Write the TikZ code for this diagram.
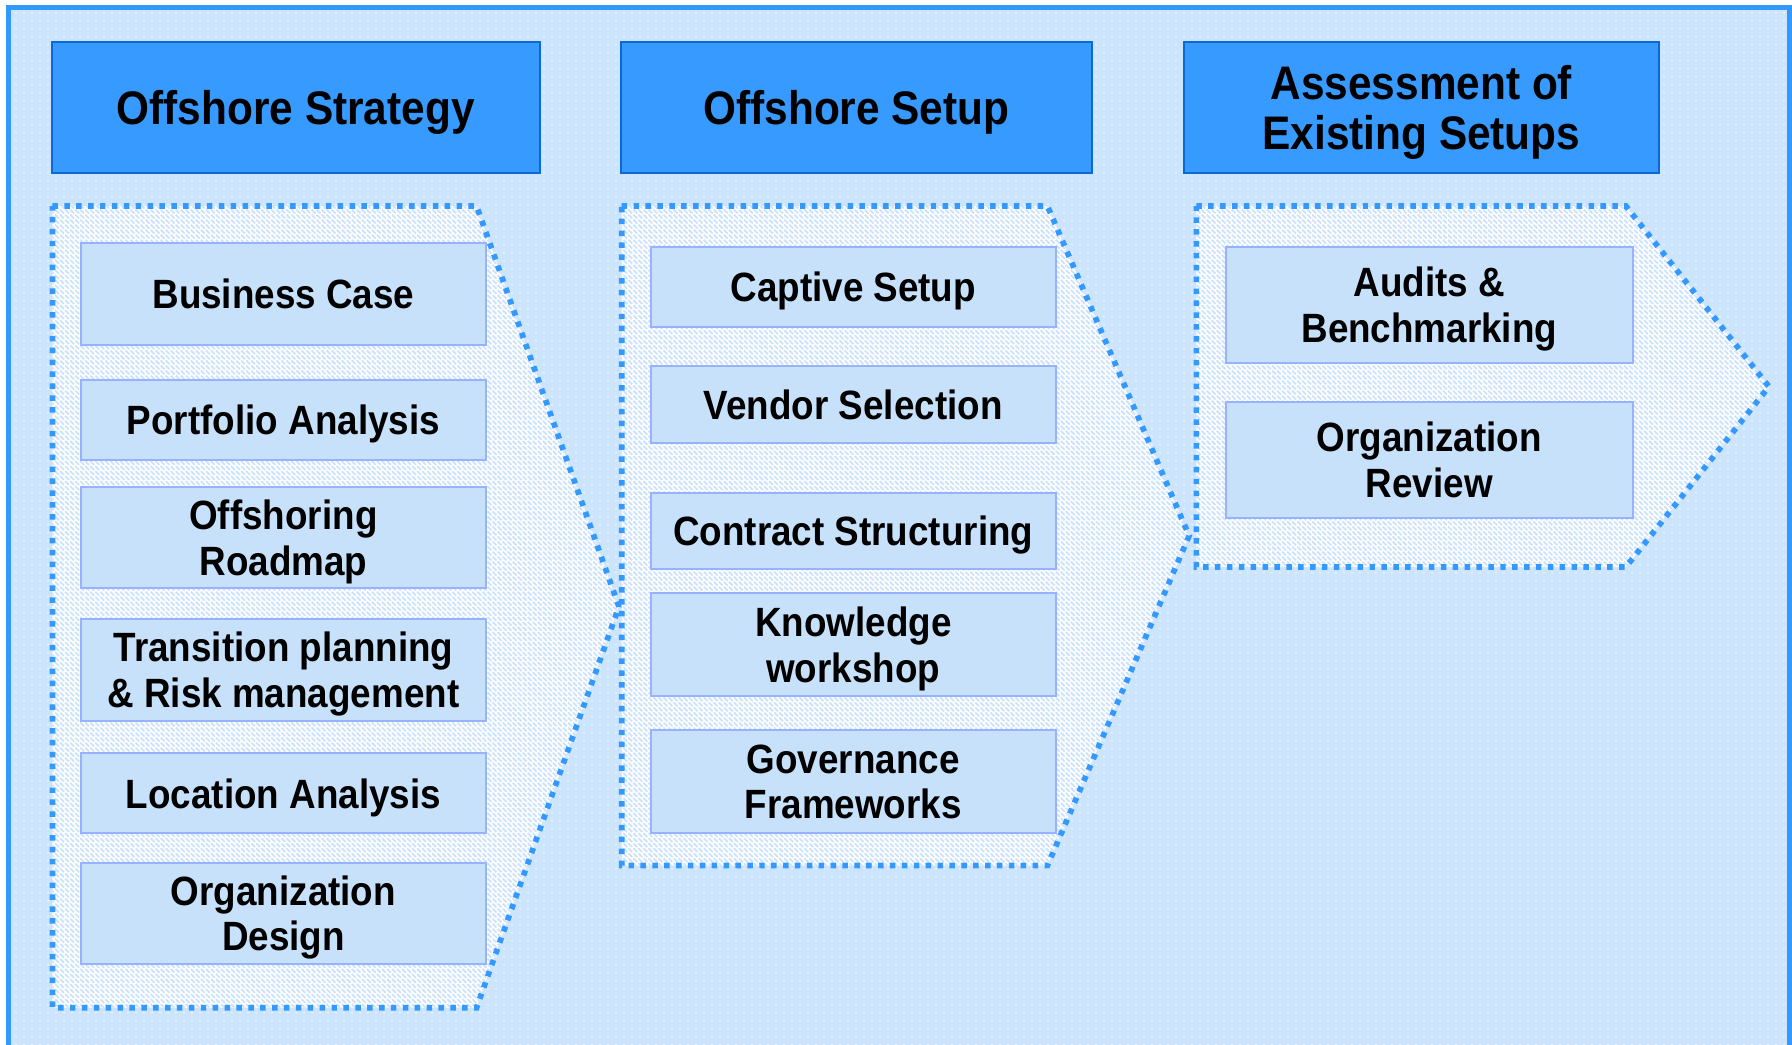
\documentclass[tikz,border=0pt]{standalone}
\usepackage{fontspec}
\newfontfamily\labfont[FakeStretch=0.9]{Liberation Sans Bold}
\usetikzlibrary{patterns}

\definecolor{bgblue}{RGB}{204,228,252}
\definecolor{dotwhite}{RGB}{238,246,255}
\definecolor{framecol}{RGB}{51,153,255}
\definecolor{hdrfill}{RGB}{54,154,255}
\definecolor{hdrline}{RGB}{12,104,212}
\definecolor{itmfill}{RGB}{199,225,250}
\definecolor{itmline}{RGB}{153,178,255}
\definecolor{hatchblue}{RGB}{205,227,252}

% white dot grid of the backdrop
\pgfdeclarepatternformonly{bgdots}{\pgfqpoint{-0.6pt}{-0.6pt}}{\pgfqpoint{0.6pt}{0.6pt}}{\pgfqpoint{3.5pt}{3.5pt}}{%
  \pgfpathcircle{\pgfpointorigin}{0.45pt}\pgfusepath{fill}}
% fine back-slanted hatching inside the chevrons
\pgfdeclarepatternformonly{hatchlines}{\pgfqpoint{-1pt}{-1pt}}{\pgfqpoint{3.2pt}{3.2pt}}{\pgfqpoint{2.2pt}{2.2pt}}{%
  \pgfsetlinewidth{0.8pt}%
  \pgfpathmoveto{\pgfqpoint{-0.1pt}{2.3pt}}\pgfpathlineto{\pgfqpoint{2.3pt}{-0.1pt}}\pgfusepath{stroke}}

\begin{document}
\begin{tikzpicture}[x=0.5pt,y=-0.5pt,
  hdr/.style={draw=hdrline, fill=hdrfill, line width=0.875pt, inner sep=0pt,
    text depth=0pt, align=center, minimum height=57.3pt,
    font=\labfont\fontsize{20.6}{21.7}\selectfont},
  itm/.style={draw=itmline, fill=itmfill, line width=0.875pt, inner sep=0pt,
    text depth=0pt, align=center, minimum width=177.3pt,
    font=\labfont\fontsize{17.9}{20}\selectfont},
  chev/.style={preaction={fill=white}, pattern=hatchlines, pattern color=hatchblue,
    draw=framecol, line width=2.5pt, dash pattern=on 2.4pt off 2.8pt}]

\useasboundingbox (0,0) rectangle (1568,914);
\fill[white] (0,0) rectangle (1568,914);

% framed backdrop, running past the lower edge
\begin{scope}
  \clip (0,0) rectangle (1568,914);
  \fill[bgblue] (7.2,6.3) rectangle (1565.5,940);
  \fill[pattern=bgdots, pattern color=dotwhite] (7.2,6.3) rectangle (1565.5,940);
  \draw[framecol, line width=2.15pt] (7.2,6.3) rectangle (1565.5,940);
\end{scope}

% column headers
\node[hdr, minimum width=213.5pt] (h1) at (258.7,93.8) {Offshore Strategy};
\node[hdr, minimum width=206.35pt] (h2) at (749.35,93.8) {Offshore Setup};
\node[hdr, minimum width=207.5pt] (h3) at (1243.7,93.8) {Assessment of\\Existing Setups};

% chevron panels
\path[chev] (45.9,180.3) -- (417,180.3) -- (541.6,530.8) -- (417,881.7) -- (45.9,881.7) -- cycle;
\path[chev] (544,180.3) -- (916.5,180.3) -- (1040.5,468.8) -- (916.5,757.4) -- (544,757.4) -- cycle;
\path[chev] (1046.8,180.3) -- (1422.6,180.3) -- (1547.8,338.3) -- (1422.6,496.2) -- (1046.8,496.2) -- cycle;

% first column
\node[itm, minimum height=44.5pt]  (bc) at (248,257.4) {Business Case};
\node[itm, minimum height=35pt]    (pa) at (248,367.5) {Portfolio Analysis};
\node[itm, minimum height=43.9pt]  (or) at (248,470.3) {Offshoring\\Roadmap};
\node[itm, minimum height=44.35pt] (tp) at (248,586.25) {Transition planning\\\& Risk management};
\node[itm, minimum height=35pt]    (la) at (248,694.2) {Location Analysis};
\node[itm, minimum height=44.2pt]  (od) at (248,799) {Organization\\Design};

% second column
\node[itm, minimum height=35pt]    (cs) at (746.6,250.8) {Captive Setup};
\node[itm, minimum height=33.5pt]  (vs) at (746.6,353.75) {Vendor Selection};
\node[itm, minimum height=33.4pt]  (ct) at (746.6,464.5) {Contract Structuring};
\node[itm, minimum height=44.9pt]  (kw) at (746.6,564.1) {Knowledge\\workshop};
\node[itm, minimum height=45.25pt] (gf) at (746.6,683.95) {Governance\\Frameworks};

% third column
\node[itm, minimum width=177.85pt, minimum height=51.05pt] (ab) at (1250.65,266.85) {Audits \&\\Benchmarking};
\node[itm, minimum width=177.85pt, minimum height=51.05pt] (rv) at (1250.65,402.45) {Organization\\Review};

\end{tikzpicture}
\end{document}
